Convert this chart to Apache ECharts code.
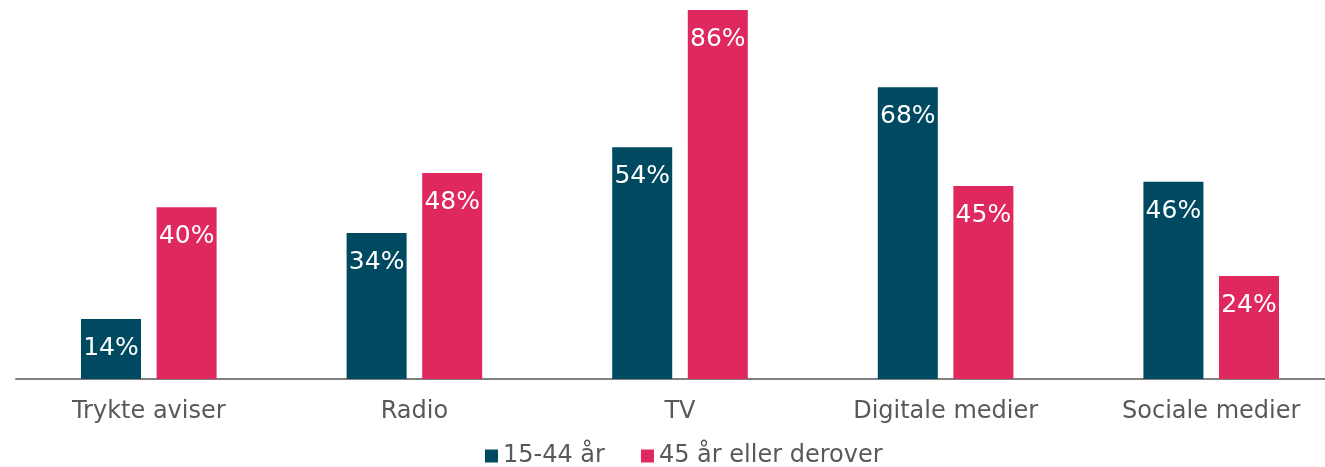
<!DOCTYPE html>
<html>
<head>
<meta charset="utf-8">
<script src="https://cdn.jsdelivr.net/npm/echarts@6/dist/echarts.min.js"></script>
<style>
  html, body { margin: 0; padding: 0; background: #fff; }
  #chart { width: 1325px; height: 467px; }
</style>
</head>
<body>
<div id="chart"></div>
<script>
  // kategorier og værdier (%)
  const categories = ['Trykte aviser', 'Radio', 'TV', 'Digitale medier', 'Sociale medier'];
  const young = [14, 34, 54, 68, 46];
  const old = [40, 48, 86, 45, 24];
  const seriesNames = ['15-44 år', '45 år eller derover'];

  const font = 'Verdana, "DejaVu Sans", sans-serif';
  const myChart = echarts.init(document.getElementById('chart'));

  const barLabel = {
    show: true,
    position: 'insideTop',
    distance: 17,
    color: '#fff',
    fontSize: 25,
    fontFamily: font,
    formatter: '{c}%'
  };

  const option = {
    animation: false,
    grid: { left: 16, width: 1328, top: 10, bottom: 88, outerBoundsMode: 'none', containLabel: false },
    legend: {
      bottom: -1,
      left: 485,
      padding: 0,
      icon: 'rect',
      itemWidth: 13,
      itemHeight: 13,
      itemGap: 36,
      textStyle: { color: '#595959', fontSize: 24, fontFamily: font },
      data: seriesNames
    },
    xAxis: {
      type: 'category',
      data: categories,
      axisLine: { lineStyle: { color: '#808080', width: 2 } },
      axisTick: { show: false },
      axisLabel: { color: '#595959', fontSize: 24, fontFamily: font, margin: 21 }
    },
    yAxis: {
      type: 'value',
      min: 0,
      max: 86,
      show: false,
      splitLine: { show: false }
    },
    series: [
      {
        name: seriesNames[0],
        type: 'bar',
        data: young,
        barWidth: 60,
        barGap: '26%',
        itemStyle: { color: '#004A61' },
        label: barLabel
      },
      {
        name: seriesNames[1],
        type: 'bar',
        data: old,
        barWidth: 60,
        itemStyle: { color: '#DE285E' },
        label: barLabel
      }
    ]
  };
  myChart.setOption(option);
</script>
</body>
</html>
